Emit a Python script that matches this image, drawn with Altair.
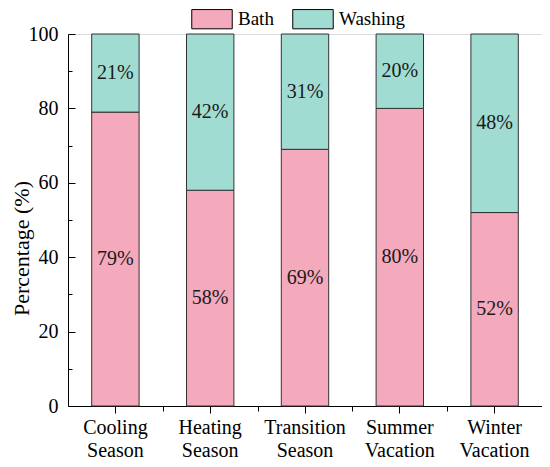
import altair as alt
import pandas as pd

categories = ["Cooling Season", "Heating Season", "Transition Season", "Summer Vacation", "Winter Vacation"]
bath = [79, 58, 69, 80, 52]
washing = [21, 42, 31, 20, 48]
series = ["Bath", "Washing"]
colors = ["#F4A9BC", "#A1DCD2"]
major_y = [0, 20, 40, 60, 80, 100]
minor_y = [10, 30, 50, 70, 90]

rows = []
for c, b, w in zip(categories, bath, washing):
    rows.append({"cat": c, "series": "Bath", "value": b, "ord": 0, "mid": b / 2, "label": f"{b}%"})
    rows.append({"cat": c, "series": "Washing", "value": w, "ord": 1, "mid": b + w / 2, "label": f"{w}%"})
df = pd.DataFrame(rows)

FONT = "Liberation Serif"
xscale = alt.Scale(paddingInner=0.5, paddingOuter=0.25)
yscale = alt.Scale(domain=[0, 100], nice=False)

base = alt.Chart(df)

bars = base.mark_bar(stroke="#333333", strokeWidth=1).encode(
    x=alt.X("cat:N", sort=categories, scale=xscale,
            axis=alt.Axis(title=None, orient="bottom", labelAngle=0,
                          labelExpr="split(datum.label, ' ')",
                          labelFont=FONT, labelFontSize=20, labelColor="black",
                          labelLineHeight=23, labelPadding=4,
                          tickSize=7, tickColor="black", domainColor="black",
                          grid=False)),
    y=alt.Y("value:Q", stack="zero", scale=yscale,
            axis=alt.Axis(values=major_y, title="Percentage (%)", grid=False,
                          tickSize=alt.ExprRef("-7"), tickColor="black",
                          domainColor="black", labelFont=FONT, labelFontSize=20,
                          labelColor="black", labelPadding=17,
                          titleFont=FONT, titleFontSize=22, titleFontWeight="normal",
                          titleColor="black", titleBaseline="alphabetic",
                          titleX=-40, titleY=214)),
    color=alt.Color("series:N", scale=alt.Scale(domain=series, range=colors),
                    legend=alt.Legend(title=None, orient="none", direction="horizontal",
                                      legendX=123, legendY=-36, padding=0,
                                      symbolType="M-1,-0.475H1V0.475H-1Z",
                                      symbolSize=1640, symbolStrokeColor="black",
                                      symbolStrokeWidth=1, symbolOpacity=1,
                                      labelFont=FONT, labelFontSize=19,
                                      labelColor="black", labelOffset=5,
                                      columnPadding=16)),
    order=alt.Order("ord:Q"),
)

labels = base.mark_text(font=FONT, fontSize=20, color="#1a1a1a").encode(
    x=alt.X("cat:N", sort=categories, scale=xscale, axis=None),
    y=alt.Y("mid:Q", scale=yscale, axis=None),
    text="label:N",
)

minor = base.mark_bar(opacity=0).encode(
    x=alt.X("cat:N", sort=categories, scale=xscale,
            axis=alt.Axis(title=None, orient="bottom", labels=False, domain=False,
                          tickSize=5, tickColor="black", tickOffset=47.4, grid=False)),
    y=alt.Y("value:Q", stack="zero", scale=yscale,
            axis=alt.Axis(values=minor_y, title=None, orient="left", labels=False,
                          domain=False, tickSize=alt.ExprRef("-4"),
                          tickColor="black", grid=False)),
    order=alt.Order("ord:Q"),
)

chart = alt.layer(bars, minor, labels).resolve_axis(
    x="independent", y="independent"
).properties(
    width=474, height=372,
    autosize=alt.AutoSizeParams(type="none"),
    padding={"left": 60, "top": 26, "right": 0, "bottom": 53},
).configure_view(stroke="black", strokeWidth=1).configure(font=FONT)

chart.save("out.html", embed_options={"renderer": "svg", "actions": False})
